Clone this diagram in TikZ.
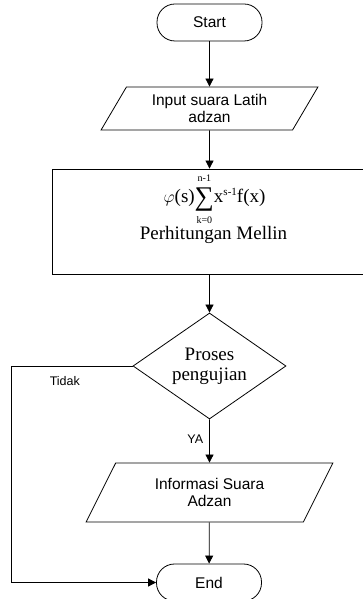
\documentclass[tikz,border=0pt]{standalone}
\usepackage{fontspec}
\usepackage{amsmath}
\setmainfont{Liberation Sans}
\newfontfamily\timesfont{Liberation Serif}
\usetikzlibrary{shapes.geometric, arrows.meta}

\begin{document}
\begin{tikzpicture}[
  x=1pt, y=1pt, line width=0.8pt,
  every node/.style={inner sep=2pt, align=center},
  terminal/.style={draw, rectangle, rounded corners=18pt, minimum width=105pt, minimum height=37pt, font=\fontsize{15.5}{17.5}\selectfont},
  data/.style={draw, trapezium, trapezium stretches=true, font=\fontsize{15.5}{17.5}\selectfont},
  process/.style={draw, rectangle, minimum width=318pt, minimum height=105pt},
  decision/.style={draw, diamond, aspect=1.44, inner sep=0pt, minimum width=153pt, minimum height=106pt, font=\timesfont\fontsize{19}{20}\selectfont},
  flow/.style={draw, -{Triangle[length=8pt, width=8pt]}},
  tag/.style={font=\fontsize{12.5}{14}\selectfont}
]
\useasboundingbox (0,0) rectangle (362,599);
\node[terminal] (start) at (209.5,576.5) {Start};
\node[data, minimum width=217pt, minimum height=43pt, trapezium left angle=61, trapezium right angle=119] (input) at (209.5,490.5) {Input suara Latih\\adzan};
\node[process] (hitung) at (211,377.5) {};
\node[anchor=base, font=\timesfont\fontsize{19}{22}\selectfont] (rumus) at (214.5,396)
  {$\varphi$(s)$\mathop{\text{\raisebox{-3pt}{\fontsize{27}{27}\selectfont ∑}}}\limits_{\text{\raisebox{-1pt}{\fontsize{10}{10}\selectfont k=0}}}^{\text{\raisebox{3pt}{\fontsize{10}{10}\selectfont n-1}}}$x\raisebox{7pt}{\fontsize{11}{11}\selectfont s-1}f(x)};
\node[anchor=base, font=\timesfont\fontsize{19}{22}\selectfont] (mellin) at (213.5,359) {Perhitungan Mellin};
\node[decision] (uji) at (209.5,233) {Proses\\pengujian};
\node[data, minimum width=247pt, minimum height=59pt, trapezium left angle=61.5, trapezium right angle=118.5] (info) at (209.5,106.5) {Informasi Suara\\Adzan};
\node[terminal] (stop) at (209,16.5) {End};

\draw[flow] (start) -- (input);
\draw[flow] (input) -- (hitung.north -| input.south);
\draw[flow] (hitung.south -| uji.north) -- (uji);
\draw[flow] (uji) -- node[tag, left=4pt, pos=0.47] {YA} (info);
\draw[flow] (info) -- (stop);
\draw[flow] (uji.west) -- node[tag, below=8pt, pos=0.56] {Tidak} ++(-121,0) |- (stop.west);
\end{tikzpicture}
\end{document}
